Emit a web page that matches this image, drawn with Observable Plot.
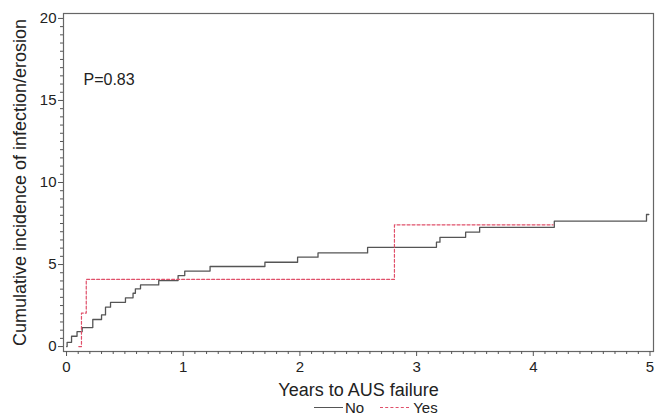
<!DOCTYPE html>
<html>
<head>
<meta charset="utf-8">
<script src="https://cdn.jsdelivr.net/npm/d3@7"></script>
<script src="https://cdn.jsdelivr.net/npm/@observablehq/plot@0.6"></script>
<style>
  body { margin: 0; background: #fff; font-family: "Liberation Sans", Arial, sans-serif; }
  #wrap { position: relative; width: 663px; height: 416px; }
  #chart svg { display: block; }
  #legend { position: absolute; left: 314px; top: 400px; font-size: 15px; line-height: 15px; color: #222; display: flex; align-items: center; white-space: nowrap; }
  .sw { display: inline-block; width: 29px; height: 0; margin-right: 2px; }
</style>
</head>
<body>
<div id="wrap">
  <div id="chart"></div>
  <div id="legend">
    <span class="sw" style="border-top:1.3px solid #555"></span><span>No</span>
    <span class="sw" style="border-top:1.2px dashed #e0506a; margin-left:16px; margin-right:4px"></span><span>Yes</span>
  </div>
</div>
<script>
// Cumulative incidence (%), group "No"
const noTimes  = [0, 0.005, 0.043, 0.09, 0.134, 0.225, 0.30, 0.334, 0.377, 0.505, 0.57, 0.59, 0.634, 0.79, 0.956, 1.013, 1.23, 1.70, 1.98, 2.155, 2.58, 3.17, 3.20, 3.42, 3.54, 4.18, 4.97, 4.99];
const noValues = [0, 0.26, 0.63, 0.91, 1.16, 1.65, 1.93, 2.40, 2.70, 2.97, 3.25, 3.52, 3.76, 4.02, 4.33, 4.60, 4.88, 5.14, 5.45, 5.71, 6.05, 6.36, 6.66, 6.97, 7.27, 7.64, 8.05, 8.05];
// group "Yes"
const yesTimes  = [0.105, 0.128, 0.169, 2.81, 4.17];
const yesValues = [0, 2.04, 4.09, 7.42, 7.42];

const xMajor = [0, 1, 2, 3, 4, 5];
const yMajor = [0, 5, 10, 15, 20];
const xMinor = d3.range(0, 50.5, 1).map(d => d / 10).filter(d => !xMajor.includes(d));
const yMinor = d3.range(0, 40.5, 1).map(d => d / 2).filter(d => !yMajor.includes(d));
const pLabel = ["P=0.83"];

const noData = noTimes.map((t, i) => ({t, v: noValues[i]}));
const yesData = yesTimes.map((t, i) => ({t, v: yesValues[i]}));

const chart = Plot.plot({
  width: 663,
  height: 416,
  marginTop: 13,
  marginBottom: 65,
  marginLeft: 63,
  marginRight: 10,
  style: {fontFamily: "'Liberation Sans', Arial, sans-serif", color: "#222", background: "#fff"},
  x: {domain: [-0.026, 5.03]},
  y: {domain: [-0.3, 20.3]},
  marks: [
    Plot.frame({stroke: "#666", strokeWidth: 1.2}),
    Plot.axisX({ticks: xMinor, tickSize: 3, tickFormat: () => "", label: null, stroke: "#555"}),
    Plot.axisY({ticks: yMinor, tickSize: 3, tickFormat: () => "", label: null, stroke: "#555"}),
    Plot.axisX({ticks: xMajor, tickSize: 5, tickPadding: 5, fontSize: 15, stroke: "#555", tickFormat: d3.format("d"),
      label: "Years to AUS failure", labelAnchor: "center", labelArrow: "none", labelOffset: 44}),
    Plot.axisY({ticks: yMajor, tickSize: 5, tickPadding: 2, fontSize: 15, stroke: "#555", tickFormat: d3.format("d"),
      label: "Cumulative incidence of infection/erosion", labelAnchor: "center", labelArrow: "none", labelOffset: 50}),
    Plot.line(noData, {x: "t", y: "v", curve: "step-after", stroke: "#555", strokeWidth: 1.3}),
    Plot.line(yesData, {x: "t", y: "v", curve: "step-after", stroke: "#e0506a", strokeWidth: 1.2, strokeDasharray: "3,2"}),
    Plot.text(pLabel, {frameAnchor: "top-left", dx: 20, dy: 60, fontSize: 16, textAnchor: "start", fill: "#222"})
  ]
});
document.getElementById("chart").appendChild(chart);
// larger axis titles
chart.querySelectorAll("[aria-label='x-axis label'] text, [aria-label='y-axis label'] text").forEach(t => t.setAttribute("font-size", "18"));
</script>
</body>
</html>
